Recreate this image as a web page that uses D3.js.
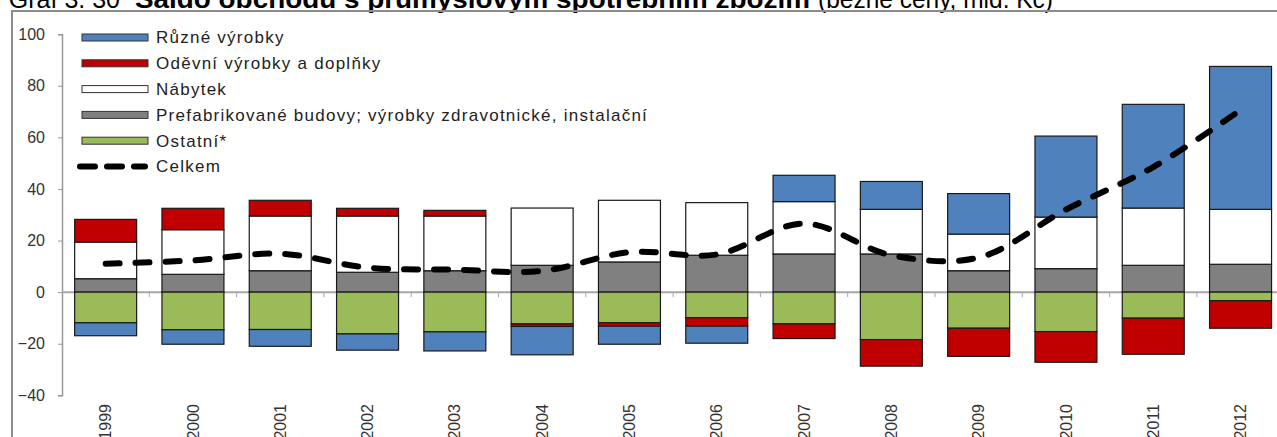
<!DOCTYPE html>
<html>
<head>
<meta charset="utf-8">
<script src="https://cdn.jsdelivr.net/npm/d3@7"></script>
<style>
  body { margin: 0; background: #fff; }
  svg { display: block; font-family: "Liberation Sans", Arial, sans-serif; }
  .tick-label { font-size: 16px; fill: #333; }
  .legend-label { font-size: 17px; letter-spacing: 1.25px; fill: #222; }
</style>
</head>
<body>
<div id="chart"></div>
<script>
// data (mld. Kč)
const years = ['1999', '2000', '2001', '2002', '2003', '2004', '2005', '2006', '2007', '2008', '2009', '2010', '2011', '2012'];
const ruzne = [-5.0, -5.6, -6.5, -6.3, -7.4, -11.0, -7.0, -6.6, 10.2, 10.8, 15.7, 31.4, 40.2, 55.4];
const odevni = [8.8, 8.3, 6.1, 3.0, 2.2, -1.0, -1.3, -3.3, -5.7, -10.3, -10.9, -11.9, -14.0, -10.7];
const nabytek = [14.2, 17.3, 21.2, 21.8, 21.2, 22.2, 23.9, 20.4, 20.3, 17.3, 14.2, 20.0, 22.2, 21.3];
const prefab = [5.2, 6.9, 8.3, 7.7, 8.3, 10.4, 11.7, 14.3, 14.8, 14.8, 8.3, 9.1, 10.4, 10.8];
const ostatni = [-11.9, -14.6, -14.5, -16.2, -15.4, -12.3, -11.9, -9.9, -12.3, -18.4, -14.0, -15.3, -10.1, -3.3];
const celkem = [11.0, 12.3, 14.9, 9.5, 8.7, 8.2, 15.5, 14.6, 26.6, 14.3, 13.4, 32.0, 48.5, 70.6];
const yTicks = [-40, -20, 0, 20, 40, 60, 80, 100];

const seriesNames = {
  ruzne: 'Různé výrobky',
  odevni: 'Oděvní výrobky a doplňky',
  nabytek: 'Nábytek',
  prefab: 'Prefabrikované budovy; výrobky zdravotnické, instalační',
  ostatni: 'Ostatní*'
};
const colors = {
  ruzne: '#4f81bd',
  odevni: '#c00000',
  nabytek: '#ffffff',
  prefab: '#808080',
  ostatni: '#9bbb59'
};

const width = 1277;
const height = 437;

// stack order: positives go up gray, white, red, blue; negatives go down green, red, blue
const stackKeys = ['prefab', 'ostatni', 'nabytek', 'odevni', 'ruzne'];
const rows = years.map((y, i) => ({
  year: y,
  ruzne: ruzne[i],
  odevni: odevni[i],
  nabytek: nabytek[i],
  prefab: prefab[i],
  ostatni: ostatni[i]
}));

const $svg = d3.select('#chart').append('svg')
  .attr('width', width)
  .attr('height', height);

// scales
const scaleX = d3.scaleBand()
  .domain(years)
  .range([62, 62 + 14 * 87.3])
  .paddingInner(0.29)
  .paddingOuter(0.145);

const scaleY = d3.scaleLinear()
  .domain([-40, 100])
  .range([395.3, 34.2]);

// title (cut at the top edge like the original)
$svg.append('text')
  .attr('x', 120).attr('y', 7.5)
  .attr('text-anchor', 'end')
  .style('font-size', '25px').style('fill', '#000')
  .text('Graf 3. 30');
$svg.append('text')
  .attr('x', 135).attr('y', 7.5)
  .attr('textLength', 675).attr('lengthAdjust', 'spacingAndGlyphs')
  .style('font-size', '25px').style('font-weight', 'bold').style('fill', '#000')
  .text('Saldo obchodu s průmyslovým spotřebním zbožím');
$svg.append('text')
  .attr('x', 818).attr('y', 7.5)
  .attr('textLength', 235).attr('lengthAdjust', 'spacingAndGlyphs')
  .style('font-size', '25px').style('fill', '#000')
  .text('(běžné ceny, mld. Kč)');

// frame
$svg.append('rect')
  .attr('x', 12).attr('y', 11)
  .attr('width', 1400).attr('height', 600)
  .attr('fill', 'none')
  .attr('stroke', '#8c8c8c')
  .attr('stroke-width', 2);

// y axis
const yAxis = d3.axisLeft(scaleY)
  .tickValues(yTicks)
  .tickSize(4)
  .tickPadding(13);
const $yAxis = $svg.append('g')
  .attr('class', 'y axis')
  .attr('transform', 'translate(62,0)')
  .call(yAxis);
$yAxis.attr('font-size', null).attr('font-family', null);
$yAxis.select('.domain').attr('stroke', '#999').attr('stroke-width', 1.5);
$yAxis.selectAll('.tick line').attr('stroke', '#999');
$yAxis.selectAll('.tick text').attr('class', 'tick-label').attr('fill', null);

// zero line with category ticks
const y0 = scaleY(0);
const $zero = $svg.append('g').attr('class', 'zero-axis');
$zero.append('line')
  .attr('x1', 62).attr('x2', width)
  .attr('y1', y0).attr('y2', y0)
  .attr('stroke', '#a6a6a6')
  .attr('stroke-width', 2);
$zero.selectAll('.cat-tick')
  .data(years.slice(1))
  .join('line')
  .attr('class', 'cat-tick')
  .attr('x1', d => scaleX(d) - scaleX.step() * scaleX.paddingInner() / 2)
  .attr('x2', d => scaleX(d) - scaleX.step() * scaleX.paddingInner() / 2)
  .attr('y1', y0).attr('y2', y0 + 5)
  .attr('stroke', '#a6a6a6');

// stacked bars
const stack = d3.stack()
  .keys(stackKeys)
  .offset(d3.stackOffsetDiverging);
const stacked = stack(rows);

const $bars = $svg.append('g').attr('class', 'bars');
stacked.forEach(layer => {
  $bars.append('g')
    .attr('class', 'layer-' + layer.key)
    .selectAll('rect')
    .data(layer.filter(d => d[1] !== d[0]))
    .join('rect')
    .attr('x', d => scaleX(d.data.year))
    .attr('width', scaleX.bandwidth())
    .attr('y', d => scaleY(Math.max(d[0], d[1])))
    .attr('height', d => Math.abs(scaleY(d[0]) - scaleY(d[1])))
    .attr('fill', colors[layer.key])
    .attr('stroke', '#1a1a1a')
    .attr('stroke-width', 1.2);
});

// x labels, rotated
$svg.append('g')
  .attr('class', 'x labels')
  .selectAll('text')
  .data(years)
  .join('text')
  .attr('class', 'tick-label')
  .attr('text-anchor', 'end')
  .attr('dy', '0.35em')
  .attr('transform', d => `translate(${scaleX(d) + scaleX.bandwidth() / 2},404) rotate(-90)`)
  .text(d => d);

// total line
const line = d3.line()
  .x((d, i) => scaleX(years[i]) + scaleX.bandwidth() / 2)
  .y(d => scaleY(d))
  .curve(d3.curveCatmullRom.alpha(0.5));

$svg.append('path')
  .datum(celkem)
  .attr('class', 'celkem')
  .attr('d', line)
  .attr('fill', 'none')
  .attr('stroke', '#000')
  .attr('stroke-width', 6)
  .attr('stroke-linecap', 'round')
  .attr('stroke-dasharray', '14 16');

// legend
const legendKeys = ['ruzne', 'odevni', 'nabytek', 'prefab', 'ostatni'];
const legendTop = 37.5;
const legendStep = 25.8;
const $legend = $svg.append('g').attr('class', 'legend');

legendKeys.forEach((key, i) => {
  const yy = legendTop + i * legendStep;
  $legend.append('rect')
    .attr('x', 82).attr('y', yy - 3.5)
    .attr('width', 66).attr('height', 7)
    .attr('fill', colors[key])
    .attr('stroke', '#333')
    .attr('stroke-width', 1);
  $legend.append('text')
    .attr('class', 'legend-label')
    .attr('x', 156).attr('y', yy)
    .attr('dy', '0.35em')
    .text(seriesNames[key]);
});

const yCel = legendTop + 5 * legendStep;
$legend.append('line')
  .attr('x1', 80).attr('x2', 145)
  .attr('y1', yCel).attr('y2', yCel)
  .attr('stroke', '#000')
  .attr('stroke-width', 6)
  .attr('stroke-linecap', 'round')
  .attr('stroke-dasharray', '15 12');
$legend.append('text')
  .attr('class', 'legend-label')
  .attr('x', 156).attr('y', yCel)
  .attr('dy', '0.35em')
  .text('Celkem');
</script>
</body>
</html>
